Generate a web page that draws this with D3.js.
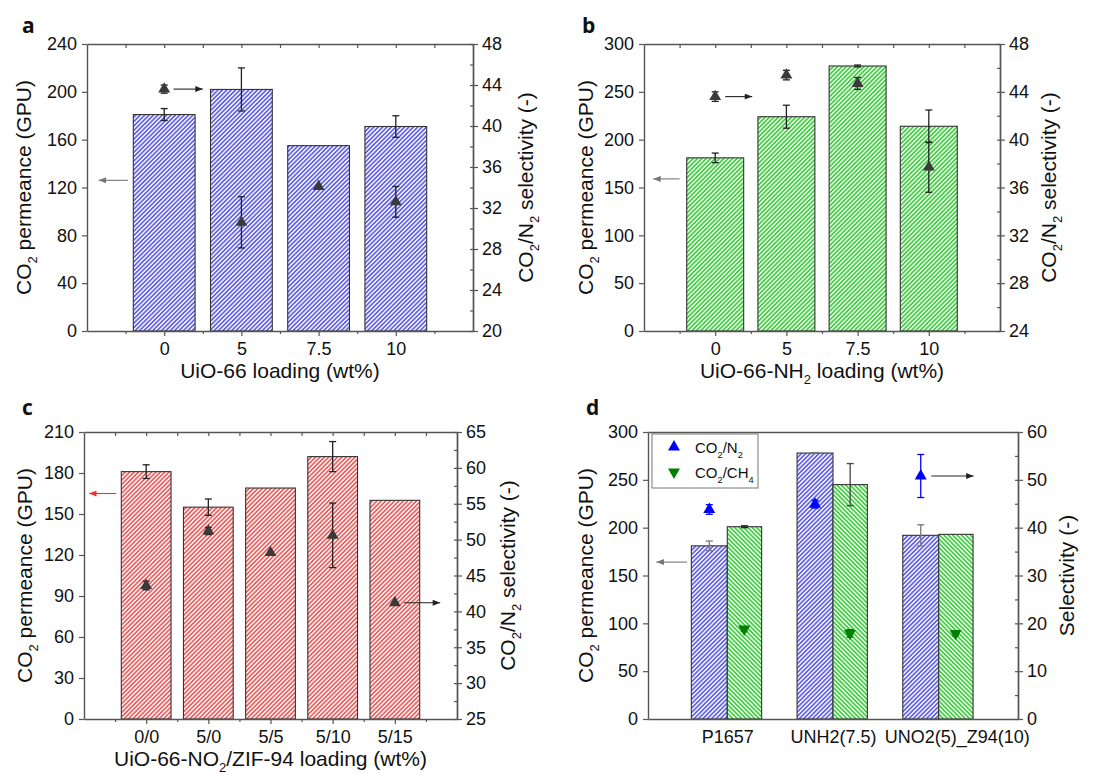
<!DOCTYPE html>
<html>
<head>
<meta charset="utf-8">
<script src="https://cdn.jsdelivr.net/npm/d3@7"></script>
<style>
  body { margin: 0; background: #fff; }
  text { font-family: "Liberation Sans", Arial, sans-serif; fill: #111; }
</style>
</head>
<body>
<div id="chart"></div>
<script>
// ---- panel a : UiO-66
var aLoading = ["0", "5", "7.5", "10"]
var aPerm = [181, 202, 155, 171]
var aPermErr = [5, 18, 0, 9]
var aSel = [43.6, 30.6, 34.1, 32.6]
var aSelErr = [0.4, 2.5, 0, 1.5]

// ---- panel b : UiO-66-NH2
var bLoading = ["0", "5", "7.5", "10"]
var bPerm = [181, 224, 277, 214]
var bPermErr = [5, 12, 1, 17]
var bSel = [43.6, 45.4, 44.7, 37.7]
var bSelErr = [0.4, 0.4, 0.5, 2.1]

// ---- panel c : UiO-66-NO2 / ZIF-94
var cLoading = ["0/0", "5/0", "5/5", "5/10", "5/15"]
var cPerm = [181, 155, 169, 192, 160]
var cPermErr = [5, 6, 0, 11, 0]
var cSel = [43.6, 51.2, 48.2, 50.6, 41.2]
var cSelErr = [0.6, 0.5, 0, 4.5, 0]

// ---- panel d : mixed gas
var dMembranes = ["P1657", "UNH2(7.5)", "UNO2(5)_Z94(10)"]
var dPermN2 = [181, 278, 192]
var dPermN2Err = [5, 0.5, 11]
var dPermCH4 = [201, 245, 193]
var dPermCH4Err = [1, 22, 0]
var dSelN2 = [43.8, 44.9, 50.8]
var dSelN2Err = [1, 0.8, 4.5]
var dSelCH4 = [18.8, 17.9, 17.9]
var dSelCH4Err = [0.5, 0.8, 0.5]

var width = 1106, height = 781

var svg = d3.select("#chart").append("svg")
  .attr("width", width)
  .attr("height", height)

var defs = svg.append("defs")

// hatch patterns
function hatch(id, bg, line, angle) {
  var p = defs.append("pattern")
    .attr("id", id)
    .attr("patternUnits", "userSpaceOnUse")
    .attr("width", 3.1)
    .attr("height", 3.1)
    .attr("patternTransform", "rotate(" + angle + ")")
  p.append("rect").attr("width", 3.1).attr("height", 3.1).attr("fill", bg)
  p.append("line")
    .attr("x1", 0.8).attr("x2", 0.8).attr("y1", 0).attr("y2", 3.1)
    .attr("stroke", line).attr("stroke-width", 1.5)
}
hatch("hBlue", "#eeeeff", "#5c5ce8", 45)
hatch("hGreen", "#e6fbe6", "#3ccc3c", 45)
hatch("hGreenBack", "#e6fbe6", "#3ccc3c", -45)
hatch("hRed", "#fdeeee", "#ec5a5a", 45)

function arrowMarker(id, color) {
  defs.append("marker")
    .attr("id", id)
    .attr("markerUnits", "userSpaceOnUse")
    .attr("viewBox", "0 0 10 8")
    .attr("refX", 10).attr("refY", 4)
    .attr("markerWidth", 9).attr("markerHeight", 6)
    .attr("orient", "auto")
    .append("path").attr("d", "M0,0L10,4L0,8Z").attr("fill", color)
}
arrowMarker("arBlack", "#222")
arrowMarker("arGrey", "#777")
arrowMarker("arRed", "#f03030")

// write a label with subscripts: parts = [[text, isSub], ...]
function richText(sel, parts, size) {
  var shift = 0
  parts.forEach(function(p) {
    var want = p[1] ? size * 0.3 : 0
    sel.append("tspan")
      .attr("dy", want - shift)
      .style("font-size", (p[1] ? size * 0.62 : size) + "px")
      .text(p[0])
    shift = want
  })
}

function range(a, b, s) {
  var out = []
  for (var v = a; v <= b + 1e-9; v += s) out.push(+v.toFixed(4))
  return out
}

function styleAxis(g) {
  g.selectAll(".domain").attr("stroke", "#555").attr("stroke-width", 1.4)
  g.selectAll(".tick line").attr("stroke", "#555").attr("stroke-width", 1.2)
  g.selectAll("text").style("font-size", "18px").attr("fill", "#111")
}

function panel(o) {
  var g = svg.append("g")
  var x = d3.scaleLinear().domain(o.xDomain).range([o.left, o.right])
  var y = d3.scaleLinear().domain(o.yDomain).range([o.bottom, o.top])
  var y2 = d3.scaleLinear().domain(o.y2Domain).range([o.bottom, o.top])
  var pos = o.labels.map(function(d, i) { return i + o.xStart })

  // bars
  o.bars.forEach(function(s) {
    g.selectAll(null)
      .data(s.values)
      .enter().append("rect")
      .attr("x", function(d, i) { return x(pos[i] + s.offset) })
      .attr("width", function() { return x(s.width) - x(0) })
      .attr("y", function(d) { return y(d) })
      .attr("height", function(d) { return y(0) - y(d) })
      .attr("fill", "url(#" + s.fill + ")")
      .attr("stroke", "#333")
      .attr("stroke-width", 1.1)
    errBars(g, s.values.map(function(d, i) {
      return { x: x(pos[i] + s.offset + s.width / 2), v: d, e: s.err[i], color: s.errColor ? s.errColor[i] : "#222" }
    }), y)
  })

  // selectivity markers
  o.points.forEach(function(s) {
    var pts = s.values.map(function(d, i) {
      return { x: x(pos[i] + s.offset), v: d, e: s.err[i], color: s.errColor }
    })
    errBars(g, pts, y2)
    g.selectAll(null)
      .data(pts)
      .enter().append("path")
      .attr("d", d3.symbol(d3.symbolTriangle, 62))
      .attr("transform", function(d) {
        return "translate(" + d.x + "," + y2(d.v) + ")" + (s.down ? " rotate(180)" : "")
      })
      .attr("fill", s.color)
  })

  // axes
  var yMinor = range(o.yDomain[0], o.yDomain[1], o.yStep / 2)
  var y2Minor = range(o.y2Domain[0], o.y2Domain[1], o.y2Step / 2)
  var xMinor = range(o.xStart - 0.5, o.xStart + o.labels.length - 0.5, 1)

  var gl = g.append("g").attr("transform", "translate(" + o.left + ",0)")
  gl.call(d3.axisLeft(y).tickValues(yMinor).tickSize(3).tickSizeOuter(0).tickFormat(""))
  gl.call(d3.axisLeft(y).tickValues(range(o.yDomain[0], o.yDomain[1], o.yStep)).tickSize(5).tickSizeOuter(0).tickPadding(5))
  styleAxis(gl)

  var gr = g.append("g").attr("transform", "translate(" + o.right + ",0)")
  gr.call(d3.axisRight(y2).tickValues(y2Minor).tickSize(-3).tickSizeOuter(0).tickFormat(""))
  gr.append("g").call(d3.axisRight(y2).tickValues(range(o.y2Domain[0], o.y2Domain[1], o.y2Step)).tickSize(5).tickSizeOuter(0).tickPadding(4))
  styleAxis(gr)

  var gt = g.append("g").attr("transform", "translate(0," + o.top + ")")
  gt.call(d3.axisTop(x).tickValues(o.noXTicks ? [] : pos.concat(xMinor)).tickSize(-4).tickSizeOuter(0).tickFormat(""))
  styleAxis(gt)

  var gb = g.append("g").attr("transform", "translate(0," + o.bottom + ")")
  gb.call(d3.axisBottom(x).tickValues(o.noXTicks ? [] : xMinor).tickSize(3).tickSizeOuter(0).tickFormat(""))
  gb.append("g").call(d3.axisBottom(x).tickValues(pos).tickSize(o.noXTicks ? 0 : 5).tickSizeOuter(0).tickPadding(o.noXTicks ? 11 : 6)
    .tickFormat(function(d) { return o.labels[d - o.xStart] }))
  styleAxis(gb)
  gb.selectAll(".domain").filter(function(d, i) { return i > 0 }).remove()
  if (o.labelShift) {
    gb.selectAll(".tick text").attr("dx", function(d) { return o.labelShift[d - o.xStart] })
  }

  // arrows
  o.arrows.forEach(function(a) {
    var ys = a.axis == "left" ? y : y2
    g.append("line")
      .attr("x1", x(a.x0)).attr("x2", x(a.x1))
      .attr("y1", ys(a.v)).attr("y2", ys(a.v))
      .attr("stroke", a.color).attr("stroke-width", 1.1)
      .attr("marker-end", "url(#" + a.marker + ")")
  })

  // titles
  svg.append("text").attr("x", o.letter[0]).attr("y", o.letter[1])
    .style("font-family", "'Open Sans', Arial, sans-serif")
    .style("font-weight", "bold").style("font-size", "21px").text(o.letterText)

  if (o.xTitle) {
    var xt = svg.append("text").attr("x", (o.left + o.right) / 2 + (o.xTitleDx || 0)).attr("y", o.bottom + 47)
      .attr("text-anchor", "middle")
    richText(xt, o.xTitle, 21)
  }
  var lt = svg.append("text")
    .attr("transform", "translate(" + o.yTitleX + "," + (o.top + o.bottom) / 2 + ") rotate(-90)")
    .attr("text-anchor", "middle")
  richText(lt, [["CO", 0], ["2", 1], [" permeance (GPU)", 0]], 21)
  var rt = svg.append("text")
    .attr("transform", "translate(" + o.y2TitleX + "," + (o.top + o.bottom) / 2 + ") rotate(-90)")
    .attr("text-anchor", "middle")
  richText(rt, o.y2Title, 21)
}

function errBars(g, pts, ys) {
  pts.filter(function(d) { return d.e > 0 }).forEach(function(d) {
    var t = ys(d.v + d.e), b = ys(d.v - d.e)
    var c = d.color || "#222"
    g.append("line").attr("x1", d.x).attr("x2", d.x).attr("y1", t).attr("y2", b).attr("stroke", c).attr("stroke-width", 1.3)
    g.append("line").attr("x1", d.x - 3.5).attr("x2", d.x + 3.5).attr("y1", t).attr("y2", t).attr("stroke", c).attr("stroke-width", 1.3)
    g.append("line").attr("x1", d.x - 3.5).attr("x2", d.x + 3.5).attr("y1", b).attr("y2", b).attr("stroke", c).attr("stroke-width", 1.3)
  })
}

var selTitle = [["CO", 0], ["2", 1], ["/N", 0], ["2", 1], [" selectivity (-)", 0]]

panel({
  left: 87, right: 473, top: 44, bottom: 331,
  xDomain: [-1, 4], xStart: 0, labels: aLoading,
  yDomain: [0, 240], yStep: 40, y2Domain: [20, 48], y2Step: 4,
  bars: [{ values: aPerm, err: aPermErr, offset: -0.4, width: 0.8, fill: "hBlue" }],
  points: [{ values: aSel, err: aSelErr, offset: 0, color: "#3a3a3a" }],
  arrows: [
    { axis: "left", v: 126, x0: -0.47, x1: -0.85, color: "#777", marker: "arGrey" },
    { axis: "right", v: 43.6, x0: 0.12, x1: 0.5, color: "#222", marker: "arBlack" }
  ],
  letter: [22, 33], letterText: "a",
  xTitle: [["UiO-66 loading (wt%)", 0]],
  yTitleX: 31, y2TitleX: 533, y2Title: selTitle
})

panel({
  left: 644, right: 1000, top: 44, bottom: 331,
  xDomain: [-1, 4], xStart: 0, labels: bLoading,
  yDomain: [0, 300], yStep: 50, y2Domain: [24, 48], y2Step: 4,
  bars: [{ values: bPerm, err: bPermErr, offset: -0.4, width: 0.8, fill: "hGreen" }],
  points: [{ values: bSel, err: bSelErr, offset: 0, color: "#3a3a3a" }],
  arrows: [
    { axis: "left", v: 159, x0: -0.5, x1: -0.87, color: "#777", marker: "arGrey" },
    { axis: "right", v: 43.6, x0: 0.14, x1: 0.52, color: "#222", marker: "arBlack" }
  ],
  letter: [582, 33], letterText: "b",
  xTitle: [["UiO-66-NH", 0], ["2", 1], [" loading (wt%)", 0]],
  yTitleX: 593, y2TitleX: 1056, y2Title: selTitle
})

panel({
  left: 84, right: 457, top: 432, bottom: 719,
  xDomain: [-1, 5], xStart: 0, labels: cLoading,
  yDomain: [0, 210], yStep: 30, y2Domain: [25, 65], y2Step: 5,
  bars: [{ values: cPerm, err: cPermErr, offset: -0.4, width: 0.8, fill: "hRed" }],
  points: [{ values: cSel, err: cSelErr, offset: 0, color: "#3a3a3a" }],
  arrows: [
    { axis: "left", v: 165, x0: -0.48, x1: -0.92, color: "#f03030", marker: "arRed" },
    { axis: "right", v: 41.2, x0: 4.15, x1: 4.73, color: "#222", marker: "arBlack" }
  ],
  letter: [22, 415], letterText: "c",
  xTitle: [["UiO-66-NO", 0], ["2", 1], ["/ZIF-94 loading (wt%)", 0]],
  yTitleX: 32, y2TitleX: 515, y2Title: selTitle
})

panel({
  left: 648, right: 1018, top: 432, bottom: 719,
  xDomain: [0.25, 3.75], xStart: 1, labels: dMembranes, noXTicks: true,
  labelShift: [0, 0, 18],
  yDomain: [0, 300], yStep: 50, y2Domain: [0, 60], y2Step: 10,
  bars: [
    { values: dPermN2, err: dPermN2Err, offset: -0.34, width: 0.34, fill: "hBlue", errColor: ["#777", "#777", "#777"] },
    { values: dPermCH4, err: dPermCH4Err, offset: 0, width: 0.325, fill: "hGreenBack", errColor: ["#222", "#444", "#444"] }
  ],
  points: [
    { values: dSelN2, err: dSelN2Err, offset: -0.17, color: "#0000ff", errColor: "#0000ff" },
    { values: dSelCH4, err: dSelCH4Err, offset: 0.16, color: "#008000", errColor: "#008000", down: true }
  ],
  arrows: [
    { axis: "left", v: 164, x0: 0.62, x1: 0.33, color: "#777", marker: "arGrey" },
    { axis: "right", v: 50.8, x0: 2.93, x1: 3.33, color: "#222", marker: "arBlack" }
  ],
  letter: [586, 415], letterText: "d",
  yTitleX: 593, y2TitleX: 1074, y2Title: [["Selectivity (-)", 0]]
})

// legend for panel d
var legend = svg.append("g")
legend.append("rect").attr("x", 652).attr("y", 434).attr("width", 106).attr("height", 54)
  .attr("fill", "#fff").attr("stroke", "#777").attr("stroke-width", 1)
var legItems = [
  { color: "#0000ff", down: false, parts: [["CO", 0], ["2", 1], ["/N", 0], ["2", 1]] },
  { color: "#008000", down: true, parts: [["CO", 0], ["2", 1], ["/CH", 0], ["4", 1]] }
]
legItems.forEach(function(d, i) {
  legend.append("path")
    .attr("d", d3.symbol(d3.symbolTriangle, 62))
    .attr("transform", "translate(674," + (447 + i * 25) + ")" + (d.down ? " rotate(180)" : ""))
    .attr("fill", d.color)
  var t = legend.append("text").attr("x", 695).attr("y", 453 + i * 25)
  richText(t, d.parts, 15)
})
</script>
</body>
</html>
